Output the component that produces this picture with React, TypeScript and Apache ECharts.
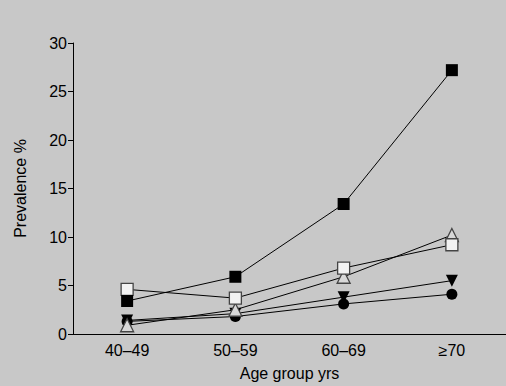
import React, { useEffect, useRef } from "react";
import * as echarts from "echarts";

const categories = ["40–49", "50–59", "60–69", "≥70"];
const filledSquare = [3.4, 5.9, 13.4, 27.2];
const openSquare = [4.6, 3.7, 6.8, 9.2];
const openTriangle = [0.9, 2.5, 5.9, 10.2];
const downTriangle = [1.4, 2.1, 3.8, 5.5];
const filledCircle = [1.3, 1.8, 3.1, 4.1];
const yTicks = { min: 0, max: 30, interval: 5 };

export default function App() {
  const ref = useRef<HTMLDivElement>(null);
  useEffect(() => {
    const chart = echarts.init(ref.current!, null, { renderer: "svg" });
    const font = "'Liberation Sans', Arial, sans-serif";
    const line = { color: "#000", width: 1 };
    chart.setOption({
      animation: false,
      backgroundColor: "#c8c8c8",
      textStyle: { fontFamily: font },
      grid: { left: 73, right: -2, top: 43, bottom: 51 },
      xAxis: {
        type: "category",
        data: categories,
        boundaryGap: true,
        name: "Age group yrs",
        nameLocation: "middle",
        nameGap: 31,
        nameTextStyle: { color: "#000", fontSize: 16, fontFamily: font },
        axisLine: { lineStyle: { color: "#000", width: 1 } },
        axisTick: { alignWithLabel: true, length: 5, lineStyle: { color: "#000" } },
        axisLabel: { color: "#000", fontSize: 16, margin: 8, fontFamily: font },
        splitLine: { show: false },
      },
      yAxis: {
        type: "value",
        min: yTicks.min,
        max: yTicks.max,
        interval: yTicks.interval,
        name: "Prevalence %",
        nameLocation: "middle",
        nameGap: 45,
        nameTextStyle: { color: "#000", fontSize: 16, fontFamily: font },
        axisLine: { show: true, lineStyle: { color: "#000", width: 1 } },
        axisTick: { show: true, length: 5, lineStyle: { color: "#000" } },
        axisLabel: { color: "#000", fontSize: 16, margin: 6, fontFamily: font },
        splitLine: { show: false },
      },
      series: [
        {
          type: "line",
          data: filledCircle,
          symbol: "circle",
          symbolSize: 11,
          lineStyle: line,
          itemStyle: { color: "#000" },
        },
        {
          type: "line",
          data: downTriangle,
          symbol: "triangle",
          symbolRotate: 180,
          symbolSize: 12,
          lineStyle: line,
          itemStyle: { color: "#000" },
        },
        {
          type: "line",
          data: openTriangle,
          symbol: "triangle",
          symbolSize: 13,
          lineStyle: line,
          itemStyle: { color: "#d8d8d8", borderColor: "#444", borderWidth: 1.3 },
        },
        {
          type: "line",
          data: openSquare,
          symbol: "rect",
          symbolSize: 12,
          lineStyle: line,
          itemStyle: { color: "#f2f2f2", borderColor: "#444", borderWidth: 1.3 },
        },
        {
          type: "line",
          data: filledSquare,
          symbol: "rect",
          symbolSize: 12,
          lineStyle: line,
          itemStyle: { color: "#000" },
        },
      ],
    });
    return () => chart.dispose();
  }, []);
  return <div ref={ref} style={{ width: 506, height: 386, position: "absolute", left: 0, top: 0 }} />;
}
